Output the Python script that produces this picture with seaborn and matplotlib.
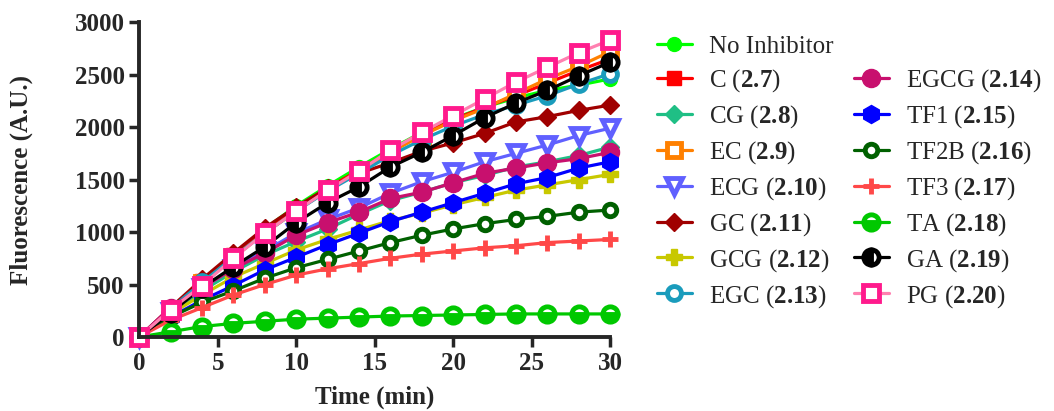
import numpy as np
import pandas as pd
import matplotlib
matplotlib.use("Agg")
import matplotlib.pyplot as plt
from matplotlib.lines import Line2D
import seaborn as sns

sns.set_style("ticks")
plt.rcParams['font.family'] = ['Liberation Serif', 'DejaVu Serif']
plt.rcParams['mathtext.fontset'] = 'custom'
plt.rcParams['mathtext.rm'] = 'Liberation Serif'
plt.rcParams['mathtext.bf'] = 'Liberation Serif:bold'

# time points (min)
time = [0, 2, 4, 6, 8, 10, 12, 14, 16, 18, 20, 22, 24, 26, 28, 30]

# fluorescence (A.U.)
no_inhibitor = [0, 270, 530, 790, 1030, 1250, 1440, 1620, 1790, 1950, 2080, 2190, 2280, 2350, 2400, 2460]
c_27 = [0, 270, 530, 780, 1010, 1220, 1420, 1590, 1770, 1930, 2070, 2190, 2300, 2420, 2540, 2650]
cg_28 = [0, 230, 440, 620, 780, 910, 1030, 1170, 1300, 1380, 1470, 1540, 1620, 1670, 1730, 1810]
ec_29 = [0, 260, 510, 760, 990, 1200, 1400, 1580, 1760, 1920, 2060, 2180, 2320, 2460, 2580, 2720]
ecg_210 = [0, 240, 470, 650, 820, 990, 1120, 1230, 1370, 1480, 1570, 1670, 1750, 1830, 1920, 1990]
gc_211 = [0, 280, 550, 800, 1040, 1240, 1420, 1560, 1660, 1770, 1850, 1940, 2050, 2100, 2160, 2210]
gcg_212 = [0, 220, 400, 570, 700, 830, 930, 1020, 1110, 1180, 1260, 1330, 1400, 1450, 1500, 1550]
egc_213 = [0, 270, 520, 760, 990, 1200, 1390, 1560, 1730, 1880, 2010, 2120, 2210, 2300, 2410, 2510]
egcg_214 = [0, 280, 470, 650, 800, 970, 1090, 1190, 1320, 1380, 1470, 1560, 1610, 1660, 1700, 1760]
tf1_215 = [0, 190, 350, 490, 640, 760, 880, 990, 1100, 1190, 1280, 1370, 1460, 1520, 1610, 1670]
tf2b_216 = [0, 190, 330, 440, 560, 660, 740, 820, 900, 970, 1030, 1080, 1120, 1150, 1190, 1210]
tf3_217 = [0, 160, 280, 400, 500, 590, 650, 700, 750, 790, 820, 850, 870, 900, 915, 930]
ta_218 = [0, 50, 100, 130, 150, 170, 180, 190, 200, 205, 210, 215, 220, 220, 220, 220]
ga_219 = [0, 230, 470, 670, 860, 1090, 1280, 1430, 1620, 1760, 1920, 2090, 2230, 2350, 2490, 2620]
pg_220 = [0, 260, 490, 750, 990, 1200, 1400, 1580, 1780, 1950, 2110, 2270, 2430, 2570, 2710, 2830]

labels = ["No Inhibitor", "C ($\\mathbf{2.7}$)", "CG ($\\mathbf{2.8}$)", "EC ($\\mathbf{2.9}$)",
          "ECG ($\\mathbf{2.10}$)", "GC ($\\mathbf{2.11}$)", "GCG ($\\mathbf{2.12}$)", "EGC ($\\mathbf{2.13}$)",
          "EGCG ($\\mathbf{2.14}$)", "TF1 ($\\mathbf{2.15}$)", "TF2B ($\\mathbf{2.16}$)", "TF3 ($\\mathbf{2.17}$)",
          "TA ($\\mathbf{2.18}$)", "GA ($\\mathbf{2.19}$)", "PG ($\\mathbf{2.20}$)"]
series = [no_inhibitor, c_27, cg_28, ec_29, ecg_210, gc_211, gcg_212, egc_213,
          egcg_214, tf1_215, tf2b_216, tf3_217, ta_218, ga_219, pg_220]

# (line colour, marker colour, marker, fill style, size)
styles = [
    ("#00ff00", "#00ff00", "o", "full", 10),
    ("#ff0000", "#ff0000", "s", "full", 10),
    ("#1fbf85", "#1fbf85", "D", "full", 9),
    ("#ff8000", "#ff8000", "s", "none", 10),
    ("#6060ff", "#6060ff", "v", "none", 11),
    ("#a00000", "#a00000", "D", "full", 9),
    ("#c8c800", "#c8c800", "P", "full", 11),
    ("#1a9cbc", "#1a9cbc", "o", "none", 10),
    ("#c8106e", "#c8106e", "o", "full", 13),
    ("#0000ff", "#0000ff", "h", "full", 13),
    ("#006000", "#006000", "o", "none", 9),
    ("#ff4848", "#ff4848", "+", "full", 12),
    ("#00c800", "#00c800", "o", "bottom", 11),
    ("#000000", "#000000", "o", "left", 11),
    ("#ff80b0", "#ff1a8c", "s", "none", 11),
]

fig = plt.figure(figsize=(10.54, 4.11), dpi=100)
ax = fig.add_axes([0.132, 0.180, 0.447, 0.766])

for vals, lab, (lc, mc, mk, fill, ms) in zip(series, labels, styles):
    df = pd.DataFrame({"Time": time, "F": vals})
    if fill == "full":
        kw = dict(markerfacecolor=mc, markeredgewidth=3.5 if mk == "+" else 1)
    elif fill == "none":
        kw = dict(markerfacecolor="white", markeredgewidth=3.5)
    else:
        kw = dict(markerfacecolor=mc, markerfacecoloralt="white", fillstyle=fill,
                  markeredgewidth=3.5)
    sns.lineplot(data=df, x="Time", y="F", ax=ax, color=lc, linewidth=2.3,
                 marker=mk, markersize=ms, markeredgecolor=mc,
                 label=lab, clip_on=False, legend=False, **kw)

ax.set_xlim(0, 30)
ax.set_ylim(0, 3000)
ax.set_xticks([0, 5, 10, 15, 20, 25, 30])
ax.set_yticks([0, 500, 1000, 1500, 2000, 2500, 3000])
ax.set_xlabel("Time (min)", fontsize=18, fontweight="bold", labelpad=8)
ax.set_ylabel("Fluorescence (A.U.)", fontsize=18, fontweight="bold", labelpad=30)
for t in ax.get_xticklabels() + ax.get_yticklabels():
    t.set_fontweight("bold")
ax.tick_params(labelsize=18, width=2.5, length=7, direction="out")
for s in ["left", "bottom"]:
    ax.spines[s].set_linewidth(2.8)
sns.despine(ax=ax)

handles, labs = ax.get_legend_handles_labels()
blank = Line2D([], [], linestyle="none", marker="none")
handles = handles[:8] + [blank] + handles[8:]
labs = labs[:8] + [""] + labs[8:]
fig.legend(handles, labs, ncol=2, loc="upper left", bbox_to_anchor=(0.623, 0.914),
           frameon=False, fontsize=18, handlelength=1.4, handletextpad=0.7,
           columnspacing=0.8, labelspacing=0.365, borderpad=0, borderaxespad=0)

fig.savefig("out.png", dpi=100)
